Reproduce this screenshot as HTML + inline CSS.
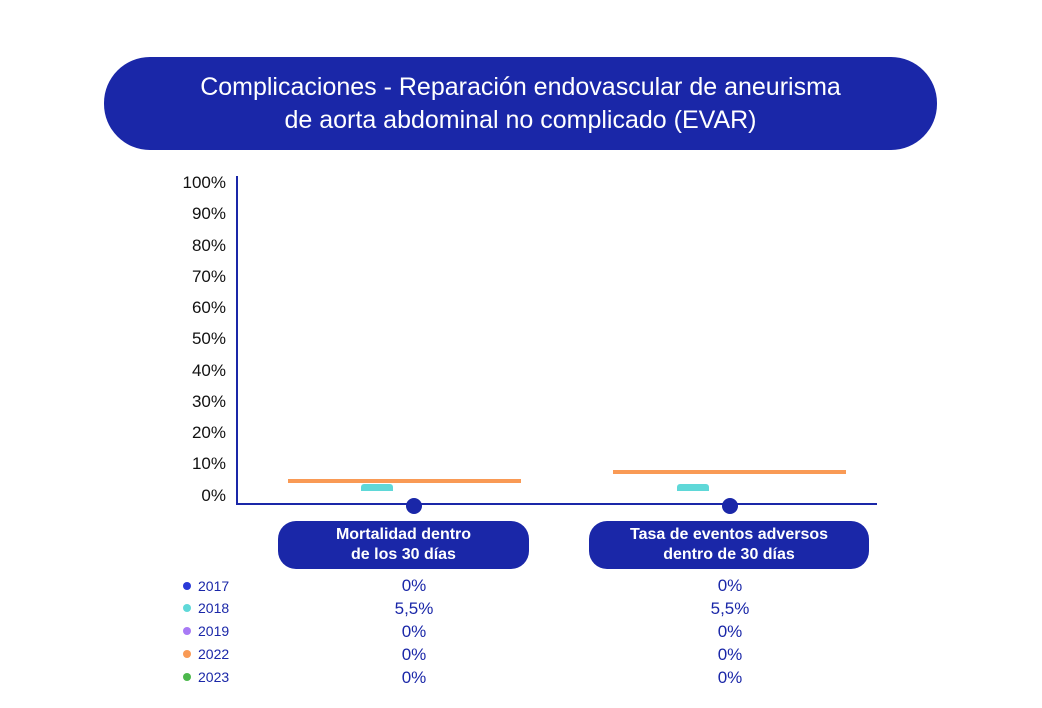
<!DOCTYPE html>
<html><head><meta charset="utf-8"><style>
body{margin:0;background:#fff;width:1042px;height:708px;position:relative;font-family:"Liberation Sans",sans-serif;overflow:hidden}
.a{position:absolute}
.t{left:104px;top:57px;width:833px;height:93px;background:#1a27a8;border-radius:46px;color:#fff;font-size:25px;text-align:center;line-height:33px;display:flex;align-items:center;justify-content:center}
.yl{width:60px;left:166px;text-align:right;font-size:17px;color:#111;line-height:18px}
.box{background:#1a27a8;border-radius:18px;color:#fff;font-weight:bold;font-size:16px;line-height:20px;text-align:center;top:521px;height:48px;display:flex;align-items:center;justify-content:center}
.lg{left:198px;font-size:14px;color:#1a27a8;line-height:16px}
.d{width:8px;height:8px;border-radius:50%;left:183px}
.v{width:100px;text-align:center;font-size:17px;color:#1a27a8;line-height:18px}
</style></head><body>
<div class="a t"><div>Complicaciones - Reparación endovascular de aneurisma<br>de aorta abdominal no complicado (EVAR)</div></div>
<div class="a yl" style="top:174px">100%</div>
<div class="a yl" style="top:205px">90%</div>
<div class="a yl" style="top:237px">80%</div>
<div class="a yl" style="top:268px">70%</div>
<div class="a yl" style="top:299px">60%</div>
<div class="a yl" style="top:330px">50%</div>
<div class="a yl" style="top:362px">40%</div>
<div class="a yl" style="top:393px">30%</div>
<div class="a yl" style="top:424px">20%</div>
<div class="a yl" style="top:455px">10%</div>
<div class="a yl" style="top:487px">0%</div>
<div class="a" style="left:236px;top:176px;width:2px;height:329px;background:#1a27a8"></div>
<div class="a" style="left:236px;top:503px;width:641px;height:2px;background:#1a27a8"></div>
<div class="a" style="left:288px;top:479px;width:233px;height:4px;background:#f99a55"></div>
<div class="a" style="left:613px;top:470px;width:233px;height:4px;background:#f99a55"></div>
<div class="a" style="left:361px;top:484px;width:32px;height:7px;background:#5fd8d8;border-radius:3px 3px 0 0"></div>
<div class="a" style="left:677px;top:484px;width:32px;height:7px;background:#5fd8d8;border-radius:3px 3px 0 0"></div>
<div class="a" style="left:406px;top:498px;width:16px;height:16px;border-radius:50%;background:#1a27a8"></div>
<div class="a" style="left:722px;top:498px;width:16px;height:16px;border-radius:50%;background:#1a27a8"></div>
<div class="a box" style="left:278px;width:251px">Mortalidad dentro<br>de los 30 días</div>
<div class="a box" style="left:589px;width:280px">Tasa de eventos adversos<br>dentro de 30 días</div>
<div class="a d" style="top:582px;background:#2a3ad8"></div><div class="a lg" style="top:578px">2017</div>
<div class="a d" style="top:604px;background:#5fd8d8"></div><div class="a lg" style="top:600px">2018</div>
<div class="a d" style="top:627px;background:#a87af5"></div><div class="a lg" style="top:623px">2019</div>
<div class="a d" style="top:650px;background:#f99a55"></div><div class="a lg" style="top:646px">2022</div>
<div class="a d" style="top:673px;background:#4cb84c"></div><div class="a lg" style="top:669px">2023</div>
<div class="a v" style="left:364px;top:577px">0%</div><div class="a v" style="left:680px;top:577px">0%</div>
<div class="a v" style="left:364px;top:600px">5,5%</div><div class="a v" style="left:680px;top:600px">5,5%</div>
<div class="a v" style="left:364px;top:623px">0%</div><div class="a v" style="left:680px;top:623px">0%</div>
<div class="a v" style="left:364px;top:646px">0%</div><div class="a v" style="left:680px;top:646px">0%</div>
<div class="a v" style="left:364px;top:669px">0%</div><div class="a v" style="left:680px;top:669px">0%</div>
</body></html>
